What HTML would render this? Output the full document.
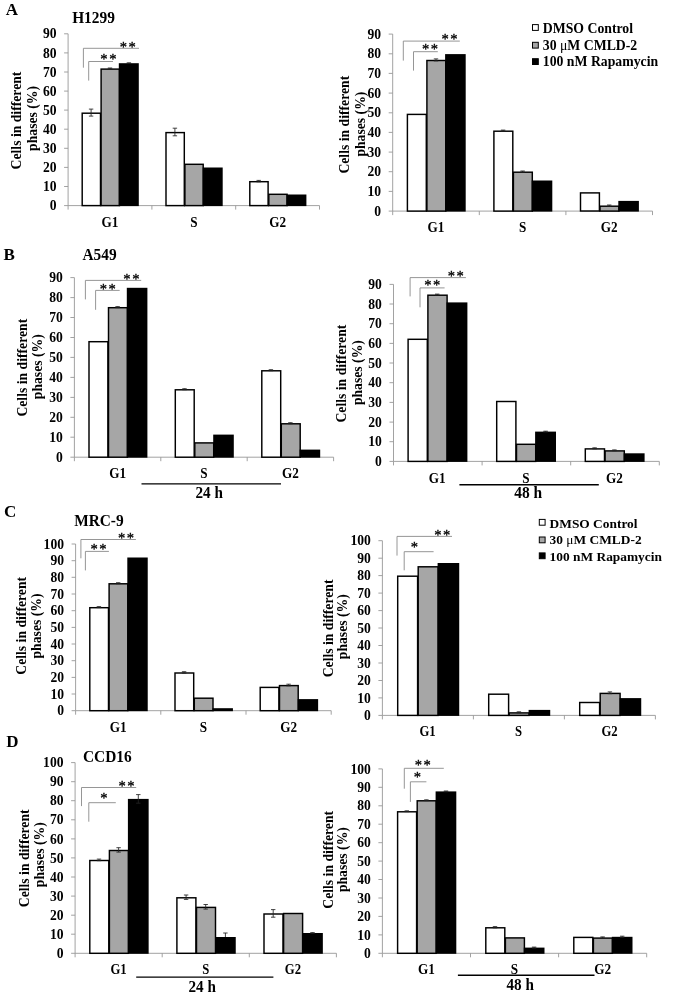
<!DOCTYPE html>
<html><head><meta charset="utf-8"><title>Cell cycle figure</title>
<style>
html,body{margin:0;padding:0;background:#fff;}
svg{display:block;filter:blur(0.35px);font-family:'Liberation Serif', 'DejaVu Serif', serif;font-weight:bold;fill:#000;}
</style></head>
<body>
<svg width="675" height="995" viewBox="0 0 675 995" font-family='"Liberation Serif", "DejaVu Serif", serif' font-weight="bold">
<rect width="675" height="995" fill="#fff"/>
<text transform="translate(5.8 14.80) scale(1 1.03)" font-size="17">A</text>
<text transform="translate(3.4 259.90) scale(1 1.03)" font-size="17">B</text>
<text transform="translate(4.0 517.10) scale(1 1.03)" font-size="17">C</text>
<text transform="translate(6.2 746.60) scale(1 1.03)" font-size="17">D</text>
<text transform="translate(93.5 22.70) scale(1 1.11)" text-anchor="middle" font-size="15.4">H1299</text>
<text transform="translate(99.6 259.70) scale(1 1.11)" text-anchor="middle" font-size="15.4">A549</text>
<text transform="translate(98.9 525.70) scale(1 1.11)" text-anchor="middle" font-size="15.4">MRC-9</text>
<text transform="translate(107.3 762.20) scale(1 1.11)" text-anchor="middle" font-size="15.4">CCD16</text>
<path d="M68.1 33.8V205.6H319.5" fill="none" stroke="#979797" stroke-width="0.9"/>
<path d="M64.1 205.6H68.1M64.1 186.5H68.1M64.1 167.4H68.1M64.1 148.3H68.1M64.1 129.2H68.1M64.1 110.1H68.1M64.1 91.1H68.1M64.1 72.0H68.1M64.1 52.9H68.1M64.1 33.8H68.1M68.1 205.6V209.6M151.9 205.6V209.6M235.7 205.6V209.6M319.5 205.6V209.6" fill="none" stroke="#979797" stroke-width="0.9"/>
<text transform="translate(56.5 210.25) scale(1 1.15)" text-anchor="end" font-size="13.6">0</text>
<text transform="translate(56.5 191.16) scale(1 1.15)" text-anchor="end" font-size="13.6">10</text>
<text transform="translate(56.5 172.07) scale(1 1.15)" text-anchor="end" font-size="13.6">20</text>
<text transform="translate(56.5 152.98) scale(1 1.15)" text-anchor="end" font-size="13.6">30</text>
<text transform="translate(56.5 133.89) scale(1 1.15)" text-anchor="end" font-size="13.6">40</text>
<text transform="translate(56.5 114.80) scale(1 1.15)" text-anchor="end" font-size="13.6">50</text>
<text transform="translate(56.5 95.71) scale(1 1.15)" text-anchor="end" font-size="13.6">60</text>
<text transform="translate(56.5 76.62) scale(1 1.15)" text-anchor="end" font-size="13.6">70</text>
<text transform="translate(56.5 57.53) scale(1 1.15)" text-anchor="end" font-size="13.6">80</text>
<text transform="translate(56.5 38.44) scale(1 1.15)" text-anchor="end" font-size="13.6">90</text>
<rect x="82.2" y="113.2" width="18.3" height="92.4" fill="#fff" stroke="#000" stroke-width="1.45"/>
<path d="M91.1 109.1V116.1M88.9 109.1h4.4M88.9 116.1h4.4" fill="none" stroke="#222" stroke-width="0.85"/>
<rect x="101.1" y="69.1" width="18.3" height="136.5" fill="#a6a6a6" stroke="#000" stroke-width="1.45"/>
<path d="M110.0 68.0V69.0M107.8 68.0h4.4M107.8 69.0h4.4" fill="none" stroke="#222" stroke-width="0.85"/>
<rect x="118.8" y="63.2" width="20.00" height="142.9" fill="#000"/>
<path d="M128.9 62.8V63.6M126.7 62.8h4.4M126.7 63.6h4.4" fill="none" stroke="#222" stroke-width="0.85"/>
<rect x="166.0" y="132.6" width="18.3" height="73.0" fill="#fff" stroke="#000" stroke-width="1.45"/>
<path d="M174.9 128.2V135.8M172.7 128.2h4.4M172.7 135.8h4.4" fill="none" stroke="#222" stroke-width="0.85"/>
<rect x="184.9" y="164.3" width="18.3" height="41.3" fill="#a6a6a6" stroke="#000" stroke-width="1.45"/>
<rect x="202.7" y="167.5" width="20.00" height="38.6" fill="#000"/>
<rect x="249.8" y="181.7" width="18.3" height="23.9" fill="#fff" stroke="#000" stroke-width="1.45"/>
<path d="M258.7 180.4V181.8M256.5 180.4h4.4M256.5 181.8h4.4" fill="none" stroke="#222" stroke-width="0.85"/>
<rect x="268.8" y="194.3" width="18.3" height="11.3" fill="#a6a6a6" stroke="#000" stroke-width="1.45"/>
<rect x="286.4" y="194.5" width="20.00" height="11.6" fill="#000"/>
<text transform="translate(110.0 226.60) scale(1 1.1)" text-anchor="middle" font-size="13.2">G1</text>
<text transform="translate(193.8 226.60) scale(1 1.1)" text-anchor="middle" font-size="13.2">S</text>
<text transform="translate(277.6 226.60) scale(1 1.1)" text-anchor="middle" font-size="13.2">G2</text>
<path d="M83.4 67.7V48.3H139.0" fill="none" stroke="#8a8a8a" stroke-width="0.9"/>
<text x="123.3" y="52.0" text-anchor="middle" font-size="14.6" font-weight="normal" stroke="#000" stroke-width="0.3">*</text>
<text x="132.1" y="52.0" text-anchor="middle" font-size="14.6" font-weight="normal" stroke="#000" stroke-width="0.3">*</text>
<path d="M88.7 80.6V61.5H113.0" fill="none" stroke="#8a8a8a" stroke-width="0.9"/>
<text x="103.9" y="63.7" text-anchor="middle" font-size="14.6" font-weight="normal" stroke="#000" stroke-width="0.3">*</text>
<text x="112.8" y="63.7" text-anchor="middle" font-size="14.6" font-weight="normal" stroke="#000" stroke-width="0.3">*</text>
<text transform="translate(21.0 120.5) rotate(-90)" text-anchor="middle" font-size="13.7">Cells in different</text>
<text transform="translate(36.7 118.4) rotate(-90)" text-anchor="middle" font-size="13.7">phases (%)</text>
<path d="M392.7 34.1V211.1H652.5" fill="none" stroke="#979797" stroke-width="0.9"/>
<path d="M388.7 211.1H392.7M388.7 191.4H392.7M388.7 171.7H392.7M388.7 152.1H392.7M388.7 132.4H392.7M388.7 112.8H392.7M388.7 93.1H392.7M388.7 73.4H392.7M388.7 53.8H392.7M388.7 34.1H392.7M392.7 211.1V215.1M479.3 211.1V215.1M565.9 211.1V215.1M652.5 211.1V215.1" fill="none" stroke="#979797" stroke-width="0.9"/>
<text transform="translate(381.1 215.70) scale(1 1.15)" text-anchor="end" font-size="13.6">0</text>
<text transform="translate(381.1 196.04) scale(1 1.15)" text-anchor="end" font-size="13.6">10</text>
<text transform="translate(381.1 176.38) scale(1 1.15)" text-anchor="end" font-size="13.6">20</text>
<text transform="translate(381.1 156.72) scale(1 1.15)" text-anchor="end" font-size="13.6">30</text>
<text transform="translate(381.1 137.06) scale(1 1.15)" text-anchor="end" font-size="13.6">40</text>
<text transform="translate(381.1 117.40) scale(1 1.15)" text-anchor="end" font-size="13.6">50</text>
<text transform="translate(381.1 97.74) scale(1 1.15)" text-anchor="end" font-size="13.6">60</text>
<text transform="translate(381.1 78.08) scale(1 1.15)" text-anchor="end" font-size="13.6">70</text>
<text transform="translate(381.1 58.42) scale(1 1.15)" text-anchor="end" font-size="13.6">80</text>
<text transform="translate(381.1 38.76) scale(1 1.15)" text-anchor="end" font-size="13.6">90</text>
<rect x="407.4" y="114.4" width="18.9" height="96.7" fill="#fff" stroke="#000" stroke-width="1.45"/>
<rect x="426.9" y="60.5" width="18.9" height="150.6" fill="#a6a6a6" stroke="#000" stroke-width="1.45"/>
<path d="M436.0 58.9V60.9M433.8 58.9h4.4M433.8 60.9h4.4" fill="none" stroke="#222" stroke-width="0.85"/>
<rect x="445.1" y="54.1" width="20.60" height="157.5" fill="#000"/>
<rect x="493.9" y="131.2" width="18.9" height="79.9" fill="#fff" stroke="#000" stroke-width="1.45"/>
<path d="M503.1 130.1V131.1M500.9 130.1h4.4M500.9 131.1h4.4" fill="none" stroke="#222" stroke-width="0.85"/>
<rect x="513.4" y="172.2" width="18.9" height="38.9" fill="#a6a6a6" stroke="#000" stroke-width="1.45"/>
<path d="M522.6 171.0V172.2M520.4 171.0h4.4M520.4 172.2h4.4" fill="none" stroke="#222" stroke-width="0.85"/>
<rect x="531.7" y="180.5" width="20.60" height="31.1" fill="#000"/>
<rect x="580.5" y="192.9" width="18.9" height="18.1" fill="#fff" stroke="#000" stroke-width="1.45"/>
<rect x="600.0" y="206.2" width="18.9" height="4.9" fill="#a6a6a6" stroke="#000" stroke-width="1.45"/>
<path d="M609.2 205.0V206.2M607.0 205.0h4.4M607.0 206.2h4.4" fill="none" stroke="#222" stroke-width="0.85"/>
<rect x="618.3" y="200.9" width="20.60" height="10.7" fill="#000"/>
<text transform="translate(436.0 232.20) scale(1 1.1)" text-anchor="middle" font-size="13.2">G1</text>
<text transform="translate(522.6 232.20) scale(1 1.1)" text-anchor="middle" font-size="13.2">S</text>
<text transform="translate(609.2 232.20) scale(1 1.1)" text-anchor="middle" font-size="13.2">G2</text>
<path d="M403.3 60.6V41.1H459.8" fill="none" stroke="#8a8a8a" stroke-width="0.9"/>
<text x="445.1" y="44.3" text-anchor="middle" font-size="14.6" font-weight="normal" stroke="#000" stroke-width="0.3">*</text>
<text x="453.9" y="44.3" text-anchor="middle" font-size="14.6" font-weight="normal" stroke="#000" stroke-width="0.3">*</text>
<path d="M413.5 70.6V51.7H437.8" fill="none" stroke="#8a8a8a" stroke-width="0.9"/>
<text x="425.6" y="54.0" text-anchor="middle" font-size="14.6" font-weight="normal" stroke="#000" stroke-width="0.3">*</text>
<text x="434.4" y="54.0" text-anchor="middle" font-size="14.6" font-weight="normal" stroke="#000" stroke-width="0.3">*</text>
<text transform="translate(349.0 124.7) rotate(-90)" text-anchor="middle" font-size="13.7">Cells in different</text>
<text transform="translate(364.5 124.1) rotate(-90)" text-anchor="middle" font-size="13.7">phases (%)</text>
<rect x="532.5" y="24.6" width="5.8" height="5.8" fill="#fff" stroke="#000" stroke-width="1"/>
<text x="542.8" y="32.7" font-size="13.75">DMSO Control</text>
<rect x="532.5" y="42.3" width="5.8" height="5.8" fill="#a6a6a6" stroke="#000" stroke-width="1"/>
<text x="542.8" y="49.8" font-size="13.75">30 <tspan font-weight="normal">μ</tspan>M CMLD-2</text>
<rect x="532.5" y="58.7" width="5.8" height="5.8" fill="#000" stroke="#000" stroke-width="1"/>
<text x="542.8" y="66.2" font-size="13.75">100 nM Rapamycin</text>
<path d="M74.4 277.6V457.2H333.6" fill="none" stroke="#979797" stroke-width="0.9"/>
<path d="M70.4 457.2H74.4M70.4 437.2H74.4M70.4 417.3H74.4M70.4 397.4H74.4M70.4 377.4H74.4M70.4 357.4H74.4M70.4 337.5H74.4M70.4 317.5H74.4M70.4 297.6H74.4M70.4 277.6H74.4M74.4 457.2V461.2M160.8 457.2V461.2M247.2 457.2V461.2M333.6 457.2V461.2" fill="none" stroke="#979797" stroke-width="0.9"/>
<text transform="translate(62.8 461.85) scale(1 1.15)" text-anchor="end" font-size="13.6">0</text>
<text transform="translate(62.8 441.90) scale(1 1.15)" text-anchor="end" font-size="13.6">10</text>
<text transform="translate(62.8 421.95) scale(1 1.15)" text-anchor="end" font-size="13.6">20</text>
<text transform="translate(62.8 402.00) scale(1 1.15)" text-anchor="end" font-size="13.6">30</text>
<text transform="translate(62.8 382.05) scale(1 1.15)" text-anchor="end" font-size="13.6">40</text>
<text transform="translate(62.8 362.10) scale(1 1.15)" text-anchor="end" font-size="13.6">50</text>
<text transform="translate(62.8 342.15) scale(1 1.15)" text-anchor="end" font-size="13.6">60</text>
<text transform="translate(62.8 322.20) scale(1 1.15)" text-anchor="end" font-size="13.6">70</text>
<text transform="translate(62.8 302.25) scale(1 1.15)" text-anchor="end" font-size="13.6">80</text>
<text transform="translate(62.8 282.30) scale(1 1.15)" text-anchor="end" font-size="13.6">90</text>
<rect x="89.0" y="341.7" width="18.9" height="115.5" fill="#fff" stroke="#000" stroke-width="1.45"/>
<rect x="108.5" y="307.7" width="18.9" height="149.5" fill="#a6a6a6" stroke="#000" stroke-width="1.45"/>
<path d="M117.6 306.6V307.6M115.4 306.6h4.4M115.4 307.6h4.4" fill="none" stroke="#222" stroke-width="0.85"/>
<rect x="126.8" y="287.8" width="20.60" height="169.9" fill="#000"/>
<rect x="175.3" y="389.8" width="18.9" height="67.4" fill="#fff" stroke="#000" stroke-width="1.45"/>
<path d="M184.5 388.7V389.7M182.3 388.7h4.4M182.3 389.7h4.4" fill="none" stroke="#222" stroke-width="0.85"/>
<rect x="194.8" y="442.9" width="18.9" height="14.3" fill="#a6a6a6" stroke="#000" stroke-width="1.45"/>
<rect x="213.2" y="434.6" width="20.60" height="23.1" fill="#000"/>
<rect x="261.8" y="370.8" width="18.9" height="86.4" fill="#fff" stroke="#000" stroke-width="1.45"/>
<path d="M270.9 369.7V370.7M268.7 369.7h4.4M268.7 370.7h4.4" fill="none" stroke="#222" stroke-width="0.85"/>
<rect x="281.3" y="423.8" width="18.9" height="33.4" fill="#a6a6a6" stroke="#000" stroke-width="1.45"/>
<path d="M290.4 422.7V423.7M288.2 422.7h4.4M288.2 423.7h4.4" fill="none" stroke="#222" stroke-width="0.85"/>
<rect x="299.6" y="449.6" width="20.60" height="8.1" fill="#000"/>
<text transform="translate(117.6 477.70) scale(1 1.1)" text-anchor="middle" font-size="13.2">G1</text>
<text transform="translate(204.0 477.70) scale(1 1.1)" text-anchor="middle" font-size="13.2">S</text>
<text transform="translate(290.4 477.70) scale(1 1.1)" text-anchor="middle" font-size="13.2">G2</text>
<path d="M85.4 299.4V280.4H141.2" fill="none" stroke="#8a8a8a" stroke-width="0.9"/>
<text x="126.9" y="283.6" text-anchor="middle" font-size="14.6" font-weight="normal" stroke="#000" stroke-width="0.3">*</text>
<text x="135.8" y="283.6" text-anchor="middle" font-size="14.6" font-weight="normal" stroke="#000" stroke-width="0.3">*</text>
<path d="M95.6 309.8V290.4H119.7" fill="none" stroke="#8a8a8a" stroke-width="0.9"/>
<text x="103.3" y="293.5" text-anchor="middle" font-size="14.6" font-weight="normal" stroke="#000" stroke-width="0.3">*</text>
<text x="112.2" y="293.5" text-anchor="middle" font-size="14.6" font-weight="normal" stroke="#000" stroke-width="0.3">*</text>
<text transform="translate(27.0 367.7) rotate(-90)" text-anchor="middle" font-size="13.7">Cells in different</text>
<text transform="translate(41.7 366.7) rotate(-90)" text-anchor="middle" font-size="13.7">phases (%)</text>
<path d="M141.5 483.9H281.0" stroke="#000" stroke-width="1.4"/>
<text transform="translate(209.2 498.40) scale(1 1.08)" text-anchor="middle" font-size="15.2">24 h</text>
<path d="M393.5 284.4V461.4H659.3" fill="none" stroke="#979797" stroke-width="0.9"/>
<path d="M389.5 461.4H393.5M389.5 441.7H393.5M389.5 422.1H393.5M389.5 402.4H393.5M389.5 382.7H393.5M389.5 363.0H393.5M389.5 343.4H393.5M389.5 323.7H393.5M389.5 304.0H393.5M389.5 284.4H393.5M393.5 461.4V465.4M482.1 461.4V465.4M570.7 461.4V465.4M659.3 461.4V465.4" fill="none" stroke="#979797" stroke-width="0.9"/>
<text transform="translate(381.9 466.05) scale(1 1.15)" text-anchor="end" font-size="13.6">0</text>
<text transform="translate(381.9 446.38) scale(1 1.15)" text-anchor="end" font-size="13.6">10</text>
<text transform="translate(381.9 426.71) scale(1 1.15)" text-anchor="end" font-size="13.6">20</text>
<text transform="translate(381.9 407.04) scale(1 1.15)" text-anchor="end" font-size="13.6">30</text>
<text transform="translate(381.9 387.37) scale(1 1.15)" text-anchor="end" font-size="13.6">40</text>
<text transform="translate(381.9 367.70) scale(1 1.15)" text-anchor="end" font-size="13.6">50</text>
<text transform="translate(381.9 348.03) scale(1 1.15)" text-anchor="end" font-size="13.6">60</text>
<text transform="translate(381.9 328.36) scale(1 1.15)" text-anchor="end" font-size="13.6">70</text>
<text transform="translate(381.9 308.69) scale(1 1.15)" text-anchor="end" font-size="13.6">80</text>
<text transform="translate(381.9 289.02) scale(1 1.15)" text-anchor="end" font-size="13.6">90</text>
<rect x="408.1" y="339.3" width="19.2" height="122.1" fill="#fff" stroke="#000" stroke-width="1.45"/>
<rect x="427.9" y="295.2" width="19.2" height="166.2" fill="#a6a6a6" stroke="#000" stroke-width="1.45"/>
<path d="M437.2 294.1V295.1M435.0 294.1h4.4M435.0 295.1h4.4" fill="none" stroke="#222" stroke-width="0.85"/>
<rect x="446.5" y="302.4" width="20.90" height="159.5" fill="#000"/>
<rect x="496.7" y="401.5" width="19.2" height="59.9" fill="#fff" stroke="#000" stroke-width="1.45"/>
<rect x="516.5" y="444.3" width="19.2" height="17.1" fill="#a6a6a6" stroke="#000" stroke-width="1.45"/>
<rect x="535.1" y="431.6" width="20.90" height="30.3" fill="#000"/>
<path d="M545.6 431.2V432.0M543.4 431.2h4.4M543.4 432.0h4.4" fill="none" stroke="#222" stroke-width="0.85"/>
<rect x="585.3" y="448.9" width="19.2" height="12.5" fill="#fff" stroke="#000" stroke-width="1.45"/>
<path d="M594.6 447.8V448.8M592.4 447.8h4.4M592.4 448.8h4.4" fill="none" stroke="#222" stroke-width="0.85"/>
<rect x="605.1" y="450.9" width="19.2" height="10.5" fill="#a6a6a6" stroke="#000" stroke-width="1.45"/>
<path d="M614.4 449.9V450.7M612.2 449.9h4.4M612.2 450.7h4.4" fill="none" stroke="#222" stroke-width="0.85"/>
<rect x="623.7" y="453.3" width="20.90" height="8.6" fill="#000"/>
<text transform="translate(437.2 482.60) scale(1 1.1)" text-anchor="middle" font-size="13.2">G1</text>
<text transform="translate(525.8 482.60) scale(1 1.1)" text-anchor="middle" font-size="13.2">S</text>
<text transform="translate(614.4 482.60) scale(1 1.1)" text-anchor="middle" font-size="13.2">G2</text>
<path d="M410.1 296.4V277.6H465.9" fill="none" stroke="#8a8a8a" stroke-width="0.9"/>
<text x="451.4" y="280.6" text-anchor="middle" font-size="14.6" font-weight="normal" stroke="#000" stroke-width="0.3">*</text>
<text x="460.1" y="280.6" text-anchor="middle" font-size="14.6" font-weight="normal" stroke="#000" stroke-width="0.3">*</text>
<path d="M420.0 307.3V287.9H444.6" fill="none" stroke="#8a8a8a" stroke-width="0.9"/>
<text x="427.9" y="289.8" text-anchor="middle" font-size="14.6" font-weight="normal" stroke="#000" stroke-width="0.3">*</text>
<text x="436.7" y="289.8" text-anchor="middle" font-size="14.6" font-weight="normal" stroke="#000" stroke-width="0.3">*</text>
<text transform="translate(346.0 373.6) rotate(-90)" text-anchor="middle" font-size="13.7">Cells in different</text>
<text transform="translate(362.0 372.6) rotate(-90)" text-anchor="middle" font-size="13.7">phases (%)</text>
<path d="M459.4 484.8H598.8" stroke="#000" stroke-width="1.4"/>
<text transform="translate(528.2 498.10) scale(1 1.08)" text-anchor="middle" font-size="15.5">48 h</text>
<path d="M75.6 544.0V710.7H331.2" fill="none" stroke="#979797" stroke-width="0.9"/>
<path d="M71.6 710.7H75.6M71.6 694.0H75.6M71.6 677.4H75.6M71.6 660.7H75.6M71.6 644.0H75.6M71.6 627.4H75.6M71.6 610.7H75.6M71.6 594.0H75.6M71.6 577.3H75.6M71.6 560.7H75.6M71.6 544.0H75.6M75.6 710.7V714.7M160.8 710.7V714.7M246.0 710.7V714.7M331.2 710.7V714.7" fill="none" stroke="#979797" stroke-width="0.9"/>
<text transform="translate(64.0 715.35) scale(1 1.15)" text-anchor="end" font-size="13.6">0</text>
<text transform="translate(64.0 698.68) scale(1 1.15)" text-anchor="end" font-size="13.6">10</text>
<text transform="translate(64.0 682.01) scale(1 1.15)" text-anchor="end" font-size="13.6">20</text>
<text transform="translate(64.0 665.34) scale(1 1.15)" text-anchor="end" font-size="13.6">30</text>
<text transform="translate(64.0 648.67) scale(1 1.15)" text-anchor="end" font-size="13.6">40</text>
<text transform="translate(64.0 632.00) scale(1 1.15)" text-anchor="end" font-size="13.6">50</text>
<text transform="translate(64.0 615.33) scale(1 1.15)" text-anchor="end" font-size="13.6">60</text>
<text transform="translate(64.0 598.66) scale(1 1.15)" text-anchor="end" font-size="13.6">70</text>
<text transform="translate(64.0 581.99) scale(1 1.15)" text-anchor="end" font-size="13.6">80</text>
<text transform="translate(64.0 565.32) scale(1 1.15)" text-anchor="end" font-size="13.6">90</text>
<text transform="translate(64.0 548.65) scale(1 1.15)" text-anchor="end" font-size="13.6">100</text>
<rect x="89.8" y="607.7" width="18.7" height="103.0" fill="#fff" stroke="#000" stroke-width="1.45"/>
<path d="M98.9 606.6V607.6M96.7 606.6h4.4M96.7 607.6h4.4" fill="none" stroke="#222" stroke-width="0.85"/>
<rect x="109.1" y="583.8" width="18.7" height="126.9" fill="#a6a6a6" stroke="#000" stroke-width="1.45"/>
<path d="M118.2 582.7V583.7M116.0 582.7h4.4M116.0 583.7h4.4" fill="none" stroke="#222" stroke-width="0.85"/>
<rect x="127.3" y="557.5" width="20.43" height="153.7" fill="#000"/>
<rect x="175.0" y="673.0" width="18.7" height="37.7" fill="#fff" stroke="#000" stroke-width="1.45"/>
<path d="M184.1 671.7V673.1M181.9 671.7h4.4M181.9 673.1h4.4" fill="none" stroke="#222" stroke-width="0.85"/>
<rect x="194.3" y="698.2" width="18.7" height="12.5" fill="#a6a6a6" stroke="#000" stroke-width="1.45"/>
<rect x="212.5" y="708.2" width="20.43" height="3.0" fill="#000"/>
<rect x="260.2" y="687.4" width="18.7" height="23.3" fill="#fff" stroke="#000" stroke-width="1.45"/>
<rect x="279.5" y="685.6" width="18.7" height="25.1" fill="#a6a6a6" stroke="#000" stroke-width="1.45"/>
<path d="M288.6 684.2V685.8M286.4 684.2h4.4M286.4 685.8h4.4" fill="none" stroke="#222" stroke-width="0.85"/>
<rect x="297.7" y="699.1" width="20.43" height="12.1" fill="#000"/>
<text transform="translate(118.2 731.50) scale(1 1.1)" text-anchor="middle" font-size="13.2">G1</text>
<text transform="translate(203.4 731.50) scale(1 1.1)" text-anchor="middle" font-size="13.2">S</text>
<text transform="translate(288.6 731.50) scale(1 1.1)" text-anchor="middle" font-size="13.2">G2</text>
<path d="M80.9 558.3V539.5H135.9" fill="none" stroke="#8a8a8a" stroke-width="0.9"/>
<text x="121.6" y="542.6" text-anchor="middle" font-size="14.6" font-weight="normal" stroke="#000" stroke-width="0.3">*</text>
<text x="130.4" y="542.6" text-anchor="middle" font-size="14.6" font-weight="normal" stroke="#000" stroke-width="0.3">*</text>
<path d="M85.4 570.4V551.4H108.9" fill="none" stroke="#8a8a8a" stroke-width="0.9"/>
<text x="94.2" y="553.7" text-anchor="middle" font-size="14.6" font-weight="normal" stroke="#000" stroke-width="0.3">*</text>
<text x="103.0" y="553.7" text-anchor="middle" font-size="14.6" font-weight="normal" stroke="#000" stroke-width="0.3">*</text>
<text transform="translate(26.2 625.8) rotate(-90)" text-anchor="middle" font-size="13.7">Cells in different</text>
<text transform="translate(41.2 626.0) rotate(-90)" text-anchor="middle" font-size="13.7">phases (%)</text>
<path d="M382.4 540.7V715.4H655.4" fill="none" stroke="#979797" stroke-width="0.9"/>
<path d="M378.4 715.4H382.4M378.4 697.9H382.4M378.4 680.5H382.4M378.4 663.0H382.4M378.4 645.5H382.4M378.4 628.0H382.4M378.4 610.6H382.4M378.4 593.1H382.4M378.4 575.6H382.4M378.4 558.2H382.4M378.4 540.7H382.4M382.4 715.4V719.4M473.4 715.4V719.4M564.4 715.4V719.4M655.4 715.4V719.4" fill="none" stroke="#979797" stroke-width="0.9"/>
<text transform="translate(370.8 720.05) scale(1 1.15)" text-anchor="end" font-size="13.6">0</text>
<text transform="translate(370.8 702.58) scale(1 1.15)" text-anchor="end" font-size="13.6">10</text>
<text transform="translate(370.8 685.11) scale(1 1.15)" text-anchor="end" font-size="13.6">20</text>
<text transform="translate(370.8 667.64) scale(1 1.15)" text-anchor="end" font-size="13.6">30</text>
<text transform="translate(370.8 650.17) scale(1 1.15)" text-anchor="end" font-size="13.6">40</text>
<text transform="translate(370.8 632.70) scale(1 1.15)" text-anchor="end" font-size="13.6">50</text>
<text transform="translate(370.8 615.23) scale(1 1.15)" text-anchor="end" font-size="13.6">60</text>
<text transform="translate(370.8 597.76) scale(1 1.15)" text-anchor="end" font-size="13.6">70</text>
<text transform="translate(370.8 580.29) scale(1 1.15)" text-anchor="end" font-size="13.6">80</text>
<text transform="translate(370.8 562.82) scale(1 1.15)" text-anchor="end" font-size="13.6">90</text>
<text transform="translate(370.8 545.35) scale(1 1.15)" text-anchor="end" font-size="13.6">100</text>
<rect x="397.7" y="576.2" width="19.9" height="139.2" fill="#fff" stroke="#000" stroke-width="1.45"/>
<rect x="418.2" y="566.8" width="19.9" height="148.6" fill="#a6a6a6" stroke="#000" stroke-width="1.45"/>
<rect x="437.6" y="563.0" width="21.63" height="152.9" fill="#000"/>
<rect x="488.7" y="694.2" width="19.9" height="21.2" fill="#fff" stroke="#000" stroke-width="1.45"/>
<rect x="509.2" y="712.9" width="19.9" height="2.5" fill="#a6a6a6" stroke="#000" stroke-width="1.45"/>
<path d="M518.9 711.8V712.8M516.7 711.8h4.4M516.7 712.8h4.4" fill="none" stroke="#222" stroke-width="0.85"/>
<rect x="528.6" y="709.9" width="21.63" height="6.0" fill="#000"/>
<rect x="579.7" y="702.5" width="19.9" height="12.9" fill="#fff" stroke="#000" stroke-width="1.45"/>
<rect x="600.2" y="693.4" width="19.9" height="22.0" fill="#a6a6a6" stroke="#000" stroke-width="1.45"/>
<path d="M609.9 691.9V693.7M607.7 691.9h4.4M607.7 693.7h4.4" fill="none" stroke="#222" stroke-width="0.85"/>
<rect x="619.6" y="698.1" width="21.63" height="17.8" fill="#000"/>
<text transform="translate(427.5 736.20) scale(1 1.1)" text-anchor="middle" font-size="12.7">G1</text>
<text transform="translate(518.5 736.20) scale(1 1.1)" text-anchor="middle" font-size="12.7">S</text>
<text transform="translate(609.5 736.20) scale(1 1.1)" text-anchor="middle" font-size="12.7">G2</text>
<path d="M397.0 555.6V536.4H452.0" fill="none" stroke="#8a8a8a" stroke-width="0.9"/>
<text x="437.8" y="539.8" text-anchor="middle" font-size="14.6" font-weight="normal" stroke="#000" stroke-width="0.3">*</text>
<text x="446.6" y="539.8" text-anchor="middle" font-size="14.6" font-weight="normal" stroke="#000" stroke-width="0.3">*</text>
<path d="M404.2 570.3V551.7H433.6" fill="none" stroke="#8a8a8a" stroke-width="0.9"/>
<text x="414.4" y="551.8" text-anchor="middle" font-size="14.6" font-weight="normal" stroke="#000" stroke-width="0.3">*</text>
<text transform="translate(332.5 628.4) rotate(-90)" text-anchor="middle" font-size="13.7">Cells in different</text>
<text transform="translate(347.1 626.7) rotate(-90)" text-anchor="middle" font-size="13.7">phases (%)</text>
<rect x="539.3" y="519.4" width="5.8" height="5.8" fill="#fff" stroke="#000" stroke-width="1"/>
<text x="549.6" y="527.7" font-size="13.4">DMSO Control</text>
<rect x="539.3" y="537.0" width="5.8" height="5.8" fill="#a6a6a6" stroke="#000" stroke-width="1"/>
<text x="549.6" y="544.1" font-size="13.4">30 <tspan font-weight="normal">μ</tspan>M CMLD-2</text>
<rect x="539.3" y="552.9" width="5.8" height="5.8" fill="#000" stroke="#000" stroke-width="1"/>
<text x="549.6" y="560.5" font-size="13.4">100 nM Rapamycin</text>
<path d="M75.1 762.6V953.3H336.4" fill="none" stroke="#979797" stroke-width="0.9"/>
<path d="M71.1 953.3H75.1M71.1 934.2H75.1M71.1 915.2H75.1M71.1 896.1H75.1M71.1 877.0H75.1M71.1 857.9H75.1M71.1 838.9H75.1M71.1 819.8H75.1M71.1 800.7H75.1M71.1 781.7H75.1M71.1 762.6H75.1M75.1 953.3V957.3M162.2 953.3V957.3M249.3 953.3V957.3M336.4 953.3V957.3" fill="none" stroke="#979797" stroke-width="0.9"/>
<text transform="translate(63.5 957.95) scale(1 1.15)" text-anchor="end" font-size="13.6">0</text>
<text transform="translate(63.5 938.88) scale(1 1.15)" text-anchor="end" font-size="13.6">10</text>
<text transform="translate(63.5 919.81) scale(1 1.15)" text-anchor="end" font-size="13.6">20</text>
<text transform="translate(63.5 900.74) scale(1 1.15)" text-anchor="end" font-size="13.6">30</text>
<text transform="translate(63.5 881.67) scale(1 1.15)" text-anchor="end" font-size="13.6">40</text>
<text transform="translate(63.5 862.60) scale(1 1.15)" text-anchor="end" font-size="13.6">50</text>
<text transform="translate(63.5 843.53) scale(1 1.15)" text-anchor="end" font-size="13.6">60</text>
<text transform="translate(63.5 824.46) scale(1 1.15)" text-anchor="end" font-size="13.6">70</text>
<text transform="translate(63.5 805.39) scale(1 1.15)" text-anchor="end" font-size="13.6">80</text>
<text transform="translate(63.5 786.32) scale(1 1.15)" text-anchor="end" font-size="13.6">90</text>
<text transform="translate(63.5 767.25) scale(1 1.15)" text-anchor="end" font-size="13.6">100</text>
<rect x="89.8" y="860.5" width="19.0" height="92.8" fill="#fff" stroke="#000" stroke-width="1.45"/>
<path d="M99.0 859.1V860.7M96.8 859.1h4.4M96.8 860.7h4.4" fill="none" stroke="#222" stroke-width="0.85"/>
<rect x="109.4" y="850.5" width="19.0" height="102.8" fill="#a6a6a6" stroke="#000" stroke-width="1.45"/>
<path d="M118.6 847.7V852.1M116.4 847.7h4.4M116.4 852.1h4.4" fill="none" stroke="#222" stroke-width="0.85"/>
<rect x="127.9" y="798.9" width="20.75" height="154.9" fill="#000"/>
<path d="M138.3 794.6V803.2M136.1 794.6h4.4M136.1 803.2h4.4" fill="none" stroke="#222" stroke-width="0.85"/>
<rect x="176.9" y="897.8" width="19.0" height="55.5" fill="#fff" stroke="#000" stroke-width="1.45"/>
<path d="M186.1 895.0V899.4M183.9 895.0h4.4M183.9 899.4h4.4" fill="none" stroke="#222" stroke-width="0.85"/>
<rect x="196.5" y="907.4" width="19.0" height="45.9" fill="#a6a6a6" stroke="#000" stroke-width="1.45"/>
<path d="M205.7 904.5V909.1M203.5 904.5h4.4M203.5 909.1h4.4" fill="none" stroke="#222" stroke-width="0.85"/>
<rect x="215.0" y="937.0" width="20.75" height="16.8" fill="#000"/>
<path d="M225.4 933.0V937.0M223.2 933.0h4.4" fill="none" stroke="#222" stroke-width="0.85"/>
<rect x="264.0" y="914.0" width="19.0" height="39.3" fill="#fff" stroke="#000" stroke-width="1.45"/>
<path d="M273.2 909.6V917.2M271.0 909.6h4.4M271.0 917.2h4.4" fill="none" stroke="#222" stroke-width="0.85"/>
<rect x="283.6" y="913.5" width="19.0" height="39.8" fill="#a6a6a6" stroke="#000" stroke-width="1.45"/>
<rect x="302.1" y="933.0" width="20.75" height="20.8" fill="#000"/>
<path d="M312.5 932.6V933.4M310.3 932.6h4.4M310.3 933.4h4.4" fill="none" stroke="#222" stroke-width="0.85"/>
<text transform="translate(118.6 973.95) scale(1 1.1)" text-anchor="middle" font-size="12.7">G1</text>
<text transform="translate(205.7 973.95) scale(1 1.1)" text-anchor="middle" font-size="12.7">S</text>
<text transform="translate(292.9 973.95) scale(1 1.1)" text-anchor="middle" font-size="12.7">G2</text>
<path d="M81.5 806.1V787.5H136.2" fill="none" stroke="#8a8a8a" stroke-width="0.9"/>
<text x="122.2" y="790.6" text-anchor="middle" font-size="14.6" font-weight="normal" stroke="#000" stroke-width="0.3">*</text>
<text x="131.0" y="790.6" text-anchor="middle" font-size="14.6" font-weight="normal" stroke="#000" stroke-width="0.3">*</text>
<path d="M88.8 821.7V802.7H115.8" fill="none" stroke="#8a8a8a" stroke-width="0.9"/>
<text x="104.0" y="803.2" text-anchor="middle" font-size="14.6" font-weight="normal" stroke="#000" stroke-width="0.3">*</text>
<text transform="translate(28.5 858.3) rotate(-90)" text-anchor="middle" font-size="13.7">Cells in different</text>
<text transform="translate(43.5 854.7) rotate(-90)" text-anchor="middle" font-size="13.7">phases (%)</text>
<path d="M136.2 977.1H273.4" stroke="#000" stroke-width="1.4"/>
<text transform="translate(202.2 991.50) scale(1 1.08)" text-anchor="middle" font-size="15.2">24 h</text>
<path d="M382.4 768.9V953.3H646.7" fill="none" stroke="#979797" stroke-width="0.9"/>
<path d="M378.4 953.3H382.4M378.4 934.9H382.4M378.4 916.4H382.4M378.4 898.0H382.4M378.4 879.5H382.4M378.4 861.1H382.4M378.4 842.7H382.4M378.4 824.2H382.4M378.4 805.8H382.4M378.4 787.3H382.4M378.4 768.9H382.4M382.4 953.3V957.3M470.5 953.3V957.3M558.6 953.3V957.3M646.7 953.3V957.3" fill="none" stroke="#979797" stroke-width="0.9"/>
<text transform="translate(370.8 957.95) scale(1 1.15)" text-anchor="end" font-size="13.6">0</text>
<text transform="translate(370.8 939.51) scale(1 1.15)" text-anchor="end" font-size="13.6">10</text>
<text transform="translate(370.8 921.07) scale(1 1.15)" text-anchor="end" font-size="13.6">20</text>
<text transform="translate(370.8 902.63) scale(1 1.15)" text-anchor="end" font-size="13.6">30</text>
<text transform="translate(370.8 884.19) scale(1 1.15)" text-anchor="end" font-size="13.6">40</text>
<text transform="translate(370.8 865.75) scale(1 1.15)" text-anchor="end" font-size="13.6">50</text>
<text transform="translate(370.8 847.31) scale(1 1.15)" text-anchor="end" font-size="13.6">60</text>
<text transform="translate(370.8 828.87) scale(1 1.15)" text-anchor="end" font-size="13.6">70</text>
<text transform="translate(370.8 810.43) scale(1 1.15)" text-anchor="end" font-size="13.6">80</text>
<text transform="translate(370.8 791.99) scale(1 1.15)" text-anchor="end" font-size="13.6">90</text>
<text transform="translate(370.8 773.55) scale(1 1.15)" text-anchor="end" font-size="13.6">100</text>
<rect x="397.6" y="811.8" width="19.0" height="141.5" fill="#fff" stroke="#000" stroke-width="1.45"/>
<path d="M406.8 810.8V811.6M404.6 810.8h4.4M404.6 811.6h4.4" fill="none" stroke="#222" stroke-width="0.85"/>
<rect x="417.2" y="800.8" width="19.0" height="152.5" fill="#a6a6a6" stroke="#000" stroke-width="1.45"/>
<path d="M426.4 799.8V800.6M424.2 799.8h4.4M424.2 800.6h4.4" fill="none" stroke="#222" stroke-width="0.85"/>
<rect x="435.6" y="791.4" width="20.70" height="162.4" fill="#000"/>
<path d="M446.0 791.0V791.8M443.8 791.0h4.4M443.8 791.8h4.4" fill="none" stroke="#222" stroke-width="0.85"/>
<rect x="485.8" y="927.8" width="19.0" height="25.5" fill="#fff" stroke="#000" stroke-width="1.45"/>
<path d="M494.9 926.6V927.8M492.8 926.6h4.4M492.8 927.8h4.4" fill="none" stroke="#222" stroke-width="0.85"/>
<rect x="505.4" y="937.9" width="19.0" height="15.4" fill="#a6a6a6" stroke="#000" stroke-width="1.45"/>
<rect x="523.8" y="947.6" width="20.70" height="6.2" fill="#000"/>
<path d="M534.1 947.1V948.1M531.9 947.1h4.4M531.9 948.1h4.4" fill="none" stroke="#222" stroke-width="0.85"/>
<rect x="573.8" y="937.4" width="19.0" height="15.9" fill="#fff" stroke="#000" stroke-width="1.45"/>
<rect x="593.4" y="938.1" width="19.0" height="15.2" fill="#a6a6a6" stroke="#000" stroke-width="1.45"/>
<path d="M602.6 936.9V938.1M600.4 936.9h4.4M600.4 938.1h4.4" fill="none" stroke="#222" stroke-width="0.85"/>
<rect x="611.8" y="936.8" width="20.70" height="17.0" fill="#000"/>
<path d="M622.2 936.2V937.4M620.0 936.2h4.4M620.0 937.4h4.4" fill="none" stroke="#222" stroke-width="0.85"/>
<text transform="translate(426.4 974.20) scale(1 1.1)" text-anchor="middle" font-size="13.2">G1</text>
<text transform="translate(514.5 974.20) scale(1 1.1)" text-anchor="middle" font-size="13.2">S</text>
<text transform="translate(602.6 974.20) scale(1 1.1)" text-anchor="middle" font-size="13.2">G2</text>
<path d="M404.3 788.7V768.3H443.8" fill="none" stroke="#8a8a8a" stroke-width="0.9"/>
<text x="418.4" y="770.4" text-anchor="middle" font-size="14.6" font-weight="normal" stroke="#000" stroke-width="0.3">*</text>
<text x="427.1" y="770.4" text-anchor="middle" font-size="14.6" font-weight="normal" stroke="#000" stroke-width="0.3">*</text>
<path d="M410.4 801.9V781.8H426.4" fill="none" stroke="#8a8a8a" stroke-width="0.9"/>
<text x="417.3" y="782.1" text-anchor="middle" font-size="14.6" font-weight="normal" stroke="#000" stroke-width="0.3">*</text>
<text transform="translate(332.5 859.8) rotate(-90)" text-anchor="middle" font-size="13.7">Cells in different</text>
<text transform="translate(347.1 859.6) rotate(-90)" text-anchor="middle" font-size="13.7">phases (%)</text>
<path d="M457.9 975.3H594.5" stroke="#000" stroke-width="1.4"/>
<text transform="translate(520.2 989.50) scale(1 1.08)" text-anchor="middle" font-size="15.2">48 h</text>
</svg>
</body></html>
